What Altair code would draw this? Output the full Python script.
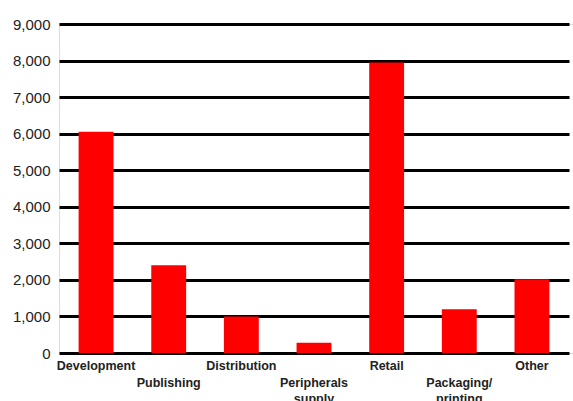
import altair as alt
import pandas as pd

categories = ["Development", "Publishing", "Distribution", "Peripherals\nsupply",
              "Retail", "Packaging/\nprinting", "Other"]
values = [6050, 2400, 1000, 280, 7950, 1200, 2020]
y_ticks = [0, 1000, 2000, 3000, 4000, 5000, 6000, 7000, 8000, 9000]

df = pd.DataFrame({"category": categories, "value": values})
df["row"] = [i % 2 for i in range(len(categories))]

FONT = "Liberation Sans"

x = alt.X("category:N", sort=categories, title=None,
          scale=alt.Scale(paddingInner=0.52, paddingOuter=0.27, range=[0, 510]),
          axis=None)

bars = alt.Chart(df).mark_bar(color="#FF0000").encode(
    x=x,
    y=alt.Y("value:Q", title=None,
            scale=alt.Scale(domain=[0, 9000], nice=False),
            axis=alt.Axis(values=y_ticks, format=",d", grid=True,
                          gridColor="#000000", gridWidth=3, gridOpacity=1,
                          domain=False, ticks=False, labelPadding=9,
                          labelFont=FONT, labelFontSize=15, labelColor="#222222")),
)

label_top = alt.Chart(df).transform_filter("datum.row == 0").mark_text(
    font=FONT, fontSize=12.5, fontWeight="bold", color="#222222",
    baseline="alphabetic", align="center", dy=17, lineBreak="\n",
).encode(x=x, y=alt.value(329), text="category:N")

label_bot = alt.Chart(df).transform_filter("datum.row == 1").mark_text(
    font=FONT, fontSize=12.5, fontWeight="bold", color="#222222",
    baseline="alphabetic", align="center", dy=34, lineBreak="\n", lineHeight=16,
).encode(x=x, y=alt.value(329), text="category:N")

chart = alt.layer(bars, label_top, label_bot).properties(
    width=514, height=329,
    autosize=alt.AutoSizeParams(type="none"),
    padding={"left": 59, "top": 24, "right": 0, "bottom": 48},
).configure_view(stroke=None).configure(background="white")

chart.save("out.html", embed_options={"renderer": "svg", "actions": False})
